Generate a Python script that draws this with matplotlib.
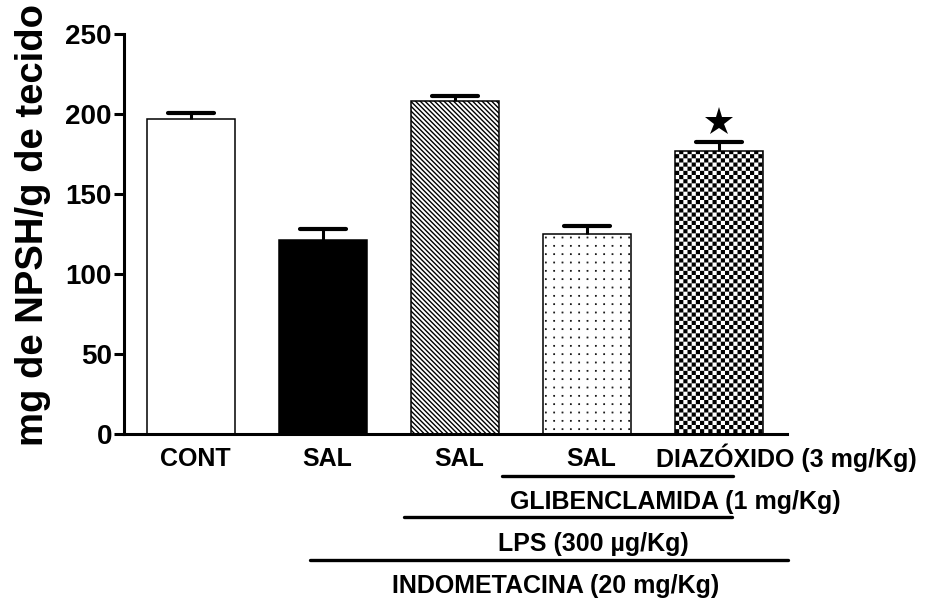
import warnings
import numpy as np
import matplotlib
matplotlib.use("Agg")
import matplotlib.pyplot as plt
from matplotlib import hatch as mhatch
from matplotlib.path import Path

warnings.filterwarnings("ignore")

# ---------------- data ----------------
categories = ["CONT", "SAL", "SAL", "SAL", "DIAZÓXIDO (3 mg/Kg)"]
means = [197, 121, 208, 125, 177]
sems = [3.5, 7, 3.5, 5, 5.5]
significant = [False, False, False, False, True]
ytick_values = [0, 50, 100, 150, 200, 250]
treatment_labels = ["GLIBENCLAMIDA (1 mg/Kg)", "LPS (300 µg/Kg)", "INDOMETACINA (20 mg/Kg)"]
ylabel_text = "mg de NPSH/g de tecido"


# ---------------- custom hatch patterns (checkerboard / grid dots) ----------------
class _GridSquares(mhatch.HatchPatternBase):
    char = "c"
    checker = True
    inset = 0.5 / 72.0

    def __init__(self, hatch, density):
        n = int(hatch.count(self.char) * density)
        self.n = n
        if n:
            cnt = n * n // 2 if self.checker else n * n
            self.num_vertices = cnt * 5
        else:
            self.num_vertices = 0

    def set_vertices_and_codes(self, vertices, codes):
        n = self.n
        s = 1.0 / n
        k = 0
        for i in range(n):
            for j in range(n):
                if self.checker and (i + j) % 2:
                    continue
                if self.checker:
                    x0, y0 = i * s + self.inset, j * s + self.inset
                    w = s - 2 * self.inset
                else:
                    w = self.size
                    x0, y0 = i * s + s / 2 - w / 2, j * s + s / 2 - w / 2
                vertices[k:k + 5] = [(x0, y0), (x0 + w, y0), (x0 + w, y0 + w),
                                     (x0, y0 + w), (x0, y0)]
                codes[k:k + 5] = [Path.MOVETO, Path.LINETO, Path.LINETO,
                                  Path.LINETO, Path.CLOSEPOLY]
                k += 5


class _GridDots(_GridSquares):
    char = "d"
    checker = False
    size = 0.25 / 72.0


mhatch._hatch_types.append(_GridSquares)
mhatch._hatch_types.append(_GridDots)

# ---------------- figure ----------------
plt.rcParams["font.family"] = ["Liberation Sans", "DejaVu Sans"]
plt.rcParams["font.weight"] = "bold"
plt.rcParams["hatch.linewidth"] = 1.0
plt.rcParams["hatch.color"] = "black"

fig = plt.figure(figsize=(9.26, 5.99), dpi=100)
ax = fig.add_axes([124.5 / 926, 1 - 433.5 / 599, (787 - 124.5) / 926, (433.5 - 34) / 599])

x = np.arange(len(categories))
styles = [
    dict(facecolor="white", hatch=None),
    dict(facecolor="black", hatch=None),
    dict(facecolor="white", hatch="\\" * 7),
    dict(facecolor="white", hatch="dd"),
    dict(facecolor="white", hatch="cccc"),
]
bar_w = 0.667
for xi, m, st in zip(x, means, styles):
    ax.bar(xi, m, width=bar_w, facecolor=st["facecolor"], edgecolor="black",
           linewidth=1.1, hatch=st["hatch"], zorder=2)

# upper-only error bars
tops = np.array(means) + np.array(sems)
ax.vlines(x, means, tops, color="black", linewidth=2.2, zorder=3)
for xi, t in zip(x, tops):
    ax.plot([xi - 0.175, xi + 0.175], [t, t], color="black", linewidth=3.0,
            solid_capstyle="round", zorder=3)

for xi, t, sig in zip(x, tops, significant):
    if sig:
        ax.plot(xi, t + 12.5, marker="*", markersize=21, color="black",
                markeredgewidth=0, zorder=4, clip_on=False)

ax.set_xlim(-0.504, 4.515)
ax.set_ylim(0, 250)
ax.set_yticks(ytick_values)
ax.set_yticklabels([str(v) for v in ytick_values], fontsize=20, fontweight="bold")
ax.set_xticks([])
for side in ("top", "right"):
    ax.spines[side].set_visible(False)
for side in ("left", "bottom"):
    ax.spines[side].set_linewidth(2.2)
ax.tick_params(axis="y", length=7.5, width=2.2, pad=1.5)

fig.text(33 / 926, 1 - 225 / 599, ylabel_text, rotation=90, ha="center", va="center",
         fontsize=27.5, fontweight="bold")

# group labels below the axis
tr = ax.get_xaxis_transform()
label_y = (433.5 - 466.5) / 399.5
for i, lab in enumerate(categories):
    if i < len(categories) - 1:
        ax.text(x[i] + 0.03, label_y, lab, transform=tr, ha="center", va="baseline",
                fontsize=18, fontweight="bold")
    else:
        ax.text(x[i] - 0.48, label_y, lab, transform=tr, ha="left", va="baseline",
                fontsize=18, fontweight="bold")

# treatment brackets
bracket_spans = [(2.356, 4.106), (1.614, 4.098), (0.902, 4.52)]
bracket_line_y = [-0.106, -0.209, -0.317]
bracket_text_x = [3.67, 3.05, 2.76]
bracket_text_y = [(433.5 - 508.5) / 399.5, (433.5 - 550.5) / 399.5, (433.5 - 593.5) / 399.5]
for lab, (x0, x1), ly, tx, ty in zip(treatment_labels, bracket_spans, bracket_line_y,
                                     bracket_text_x, bracket_text_y):
    ax.plot([x0, x1], [ly, ly], transform=tr, color="black", linewidth=2.4,
            solid_capstyle="round", clip_on=False)
    ax.text(tx, ty, lab, transform=tr, ha="center", va="baseline",
            fontsize=18, fontweight="bold")

fig.savefig("out.png", dpi=100)
